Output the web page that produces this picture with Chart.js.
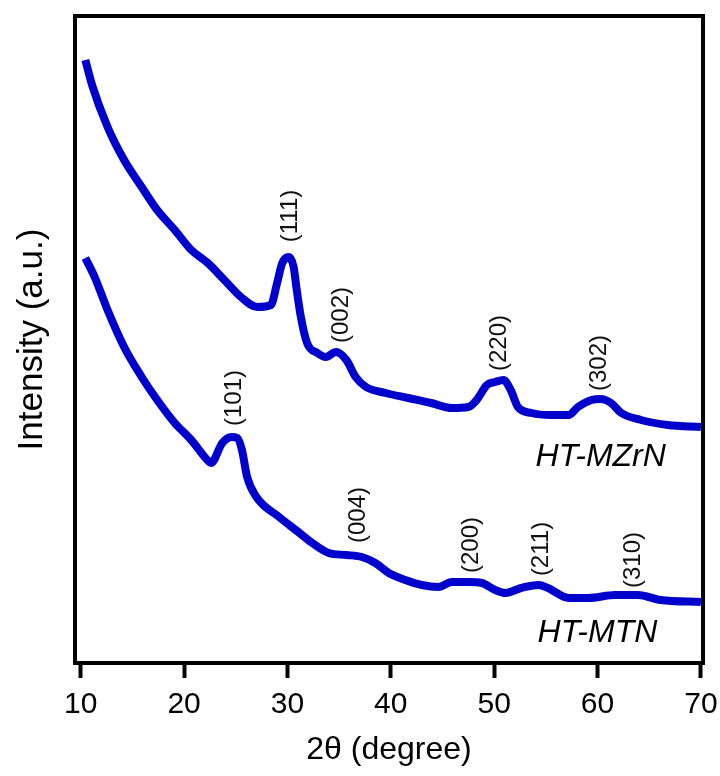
<!DOCTYPE html>
<html>
<head>
<meta charset="utf-8">
<script src="https://cdn.jsdelivr.net/npm/chart.js@4.4.1/dist/chart.umd.min.js"></script>
<style>
  html, body { margin: 0; padding: 0; background: #fff; }
  #wrap { width: 720px; height: 776px; }
</style>
</head>
<body>
<div id="wrap"><canvas id="myChart"></canvas></div>
<script>
// 2θ values and intensities (a.u.)
const thetaMZrN = [10.45, 11.1, 12.6, 14.2, 15.9, 17.4, 19.1, 20.7, 22.3, 23.9, 25.5, 27.1, 28.4, 29.0, 29.5, 30.15, 30.6, 30.9, 31.3, 31.9, 32.9, 33.7, 34.7, 35.7, 36.6, 37.6, 39.5, 41.7, 43.9, 45.9, 47.5, 48.3, 49.3, 50.1, 50.9, 51.6, 52.3, 53.6, 55.5, 57.2, 58.1, 59.4, 60.3, 61.3, 62.3, 64.2, 66.8, 70.0];
const intensityMZrN = [603, 578, 536, 503, 476, 453, 433, 413, 400, 383, 366, 356, 358, 380, 400, 406, 396, 373, 346, 320, 310, 306, 311, 303, 286, 276, 270, 265, 260, 255, 256, 263, 278, 281, 283, 273, 256, 250, 248, 248, 256, 263, 264, 260, 250, 243, 238, 236];

const thetaMTN = [10.45, 11.35, 12.6, 14.2, 15.9, 17.4, 19.1, 20.7, 22.25, 22.6, 23.7, 24.6, 25.15, 25.6, 26.1, 27.0, 29.2, 30.8, 32.4, 34.0, 35.7, 37.2, 38.5, 39.8, 41.4, 43.0, 44.6, 45.9, 47.5, 48.8, 50.1, 51.1, 52.6, 54.3, 55.2, 57.2, 59.1, 61.7, 63.9, 66.1, 70.0];
const intensityMTN = [405, 386, 353, 316, 286, 263, 240, 223, 203, 200, 220, 226, 225, 213, 186, 166, 146, 133, 120, 110, 108, 106, 100, 90, 83, 78, 76, 81, 81, 80, 73, 70, 75, 78, 75, 65, 65, 68, 68, 63, 61];

const xTicks = [10, 20, 30, 40, 50, 60, 70];

// Miller indices and where their labels sit (2θ, intensity)
const peakLabels = ['(111)', '(002)', '(220)', '(302)', '(101)', '(004)', '(200)', '(211)', '(310)'];
const peakLabelX = [30.3, 35.2, 50.5, 60.2, 24.9, 36.9, 47.75, 54.6, 63.5];
const peakLabelY = [447, 348, 320, 300, 265, 148, 118, 114, 103];

const sampleNames = ['HT-MZrN', 'HT-MTN'];
const sampleNameX = [54.0, 54.2];
const sampleNameY = [206, 30];

const toPoints = (xs, ys) => xs.map((x, i) => ({ x: x, y: ys[i] }));
const lineColor = '#0000cc';

// Cuadro negro alrededor del área y textos de anotación
const annotations = {
    id: 'annotations',
    afterDatasetsDraw(chart) {
        const { ctx, chartArea, scales } = chart;
        ctx.save();
        ctx.lineWidth = 4;
        ctx.strokeStyle = '#000';
        ctx.strokeRect(chartArea.left, chartArea.top, chartArea.right - chartArea.left, chartArea.bottom - chartArea.top);

        ctx.fillStyle = '#111';
        ctx.font = '24px "Liberation Sans", Arial, sans-serif';
        ctx.textAlign = 'center';
        ctx.textBaseline = 'middle';
        peakLabels.forEach((txt, i) => {
            const px = scales.x.getPixelForValue(peakLabelX[i]);
            const py = scales.y.getPixelForValue(peakLabelY[i]);
            ctx.save();
            ctx.translate(px, py);
            ctx.rotate(-Math.PI / 2);
            ctx.fillText(txt, 0, 0);
            ctx.restore();
        });

        ctx.fillStyle = '#000';
        ctx.font = 'italic 32px "Liberation Sans", Arial, sans-serif';
        ctx.textAlign = 'left';
        sampleNames.forEach((txt, i) => {
            ctx.fillText(txt, scales.x.getPixelForValue(sampleNameX[i]), scales.y.getPixelForValue(sampleNameY[i]));
        });
        ctx.restore();
    }
};

const ctx = document.getElementById('myChart').getContext('2d');
const chart = new Chart(ctx, {
    type: 'line',
    data: {
        datasets: [{
            label: 'HT-MZrN',
            data: toPoints(thetaMZrN, intensityMZrN),
            borderColor: lineColor,
            borderWidth: 8,
            pointRadius: 0,
            cubicInterpolationMode: 'monotone',
            fill: false
        }, {
            label: 'HT-MTN',
            data: toPoints(thetaMTN, intensityMTN),
            borderColor: lineColor,
            borderWidth: 8,
            pointRadius: 0,
            cubicInterpolationMode: 'monotone',
            fill: false
        }]
    },
    options: {
        responsive: true,
        maintainAspectRatio: false,
        animation: false,
        layout: { padding: { top: 16, right: 17, left: 0, bottom: 0 } },
        plugins: {
            legend: { display: false },
            tooltip: { enabled: false }
        },
        scales: {
            x: {
                type: 'linear',
                min: 9.45,
                max: 70.2,
                afterBuildTicks: axis => { axis.ticks = xTicks.map(v => ({ value: v })); },
                afterFit: axis => {
                    axis.height = 113;
                    axis.paddingLeft = 0;
                    axis.paddingRight = 0;
                },
                border: { display: false },
                grid: {
                    drawOnChartArea: false,
                    drawTicks: true,
                    tickLength: 15,
                    tickWidth: 4,
                    tickColor: '#000'
                },
                ticks: {
                    color: '#000',
                    padding: 9,
                    maxRotation: 0,
                    font: { family: '"Liberation Sans", Arial', size: 30 }
                },
                title: {
                    display: true,
                    text: '2θ (degree)',
                    color: '#000',
                    padding: { top: 0, bottom: 7 },
                    font: { family: '"Liberation Sans", Arial', size: 32 }
                }
            },
            y: {
                min: 0,
                max: 647,
                afterFit: axis => { axis.width = 75; },
                border: { display: false },
                grid: { display: false },
                ticks: { display: false },
                title: {
                    display: true,
                    text: 'Intensity (a.u.)',
                    color: '#000',
                    padding: { top: 11, bottom: 0 },
                    font: { family: '"Liberation Sans", Arial', size: 35 }
                }
            }
        }
    },
    plugins: [annotations]
});
</script>
</body>
</html>
